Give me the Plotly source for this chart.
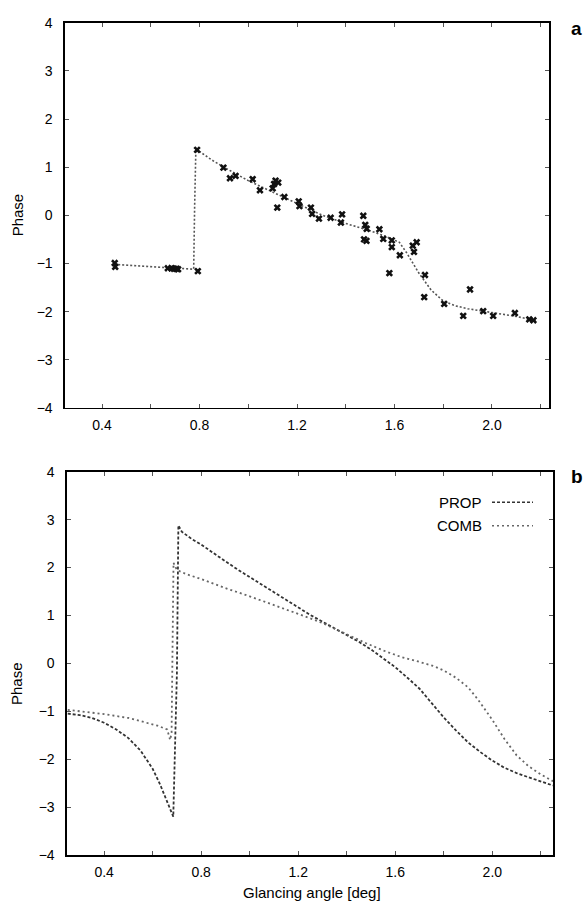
import plotly.graph_objects as go

# ---------------- Panel a: measured phase and fit ----------------
meas_x = [0.452, 0.454, 0.670, 0.685, 0.695, 0.705, 0.712, 0.793, 0.790,
          0.898, 0.925, 0.948, 1.018, 1.048, 1.100, 1.106, 1.123, 1.112, 1.119,
          1.148, 1.207, 1.210, 1.257, 1.262, 1.290, 1.338, 1.385, 1.380,
          1.472, 1.480, 1.486, 1.475, 1.485, 1.538, 1.554, 1.589, 1.589,
          1.579, 1.622, 1.675, 1.691, 1.680, 1.725, 1.722, 1.804, 1.882,
          1.910, 1.964, 2.005, 2.094, 2.153, 2.170]
meas_y = [-0.99, -1.07, -1.10, -1.10, -1.11, -1.11, -1.12, -1.16, 1.36,
          0.99, 0.77, 0.82, 0.75, 0.52, 0.56, 0.65, 0.68, 0.72, 0.16,
          0.38, 0.29, 0.19, 0.16, 0.03, -0.07, -0.05, 0.02, -0.15,
          -0.01, -0.20, -0.28, -0.50, -0.53, -0.29, -0.49, -0.52, -0.66,
          -1.20, -0.83, -0.63, -0.56, -0.76, -1.24, -1.70, -1.84, -2.09,
          -1.54, -1.99, -2.09, -2.03, -2.16, -2.18]

fit_x = [0.45, 0.55, 0.65, 0.72, 0.776, 0.780, 0.785, 0.85, 0.90, 1.00, 1.10,
         1.20, 1.30, 1.40, 1.50, 1.57, 1.60, 1.62, 1.65, 1.70, 1.75, 1.80,
         1.85, 1.90, 2.00, 2.10, 2.18]
fit_y = [-1.02, -1.05, -1.08, -1.10, -1.12, 0.20, 1.38, 1.15, 1.00, 0.72, 0.48,
         0.25, 0.01, -0.17, -0.32, -0.45, -0.52, -0.56, -0.78, -1.20, -1.55, -1.78,
         -1.88, -1.94, -2.02, -2.10, -2.19]

# ---------------- Panel b: model curves ----------------
prop_x = [0.25, 0.30, 0.35, 0.40, 0.45, 0.50, 0.55, 0.60, 0.63, 0.66, 0.685,
          0.700, 0.706, 0.72, 0.76, 0.80, 0.85, 0.90, 0.95, 1.00, 1.05, 1.10,
          1.15, 1.20, 1.25, 1.30, 1.35, 1.40, 1.45, 1.50, 1.55, 1.60, 1.65,
          1.70, 1.75, 1.80, 1.85, 1.90, 1.95, 2.00, 2.05, 2.10, 2.15, 2.20, 2.25]
prop_y = [-1.05, -1.08, -1.14, -1.24, -1.38, -1.56, -1.82, -2.20, -2.52, -2.88, -3.20,
          -0.20, 2.88, 2.75, 2.60, 2.48, 2.30, 2.13, 1.96, 1.80, 1.64, 1.48,
          1.32, 1.16, 1.01, 0.87, 0.73, 0.59, 0.45, 0.29, 0.11, -0.08, -0.30,
          -0.53, -0.83, -1.13, -1.40, -1.65, -1.85, -2.03, -2.18, -2.29, -2.38, -2.46, -2.55]

comb_x = [0.25, 0.30, 0.40, 0.50, 0.56, 0.62, 0.66, 0.672, 0.678, 0.682, 0.686,
          0.70, 0.74, 0.80, 0.90, 1.00, 1.10, 1.20, 1.25, 1.30, 1.35, 1.40,
          1.48, 1.55, 1.62, 1.70, 1.76, 1.80, 1.85, 1.90, 1.94, 2.00, 2.05,
          2.10, 2.15, 2.20, 2.25]
comb_y = [-0.97, -1.00, -1.06, -1.14, -1.22, -1.30, -1.38, -1.60, -1.45, 0.50, 2.10,
          1.95, 1.86, 1.76, 1.57, 1.40, 1.22, 1.03, 0.94, 0.84, 0.72, 0.61,
          0.42, 0.27, 0.14, 0.03, -0.06, -0.15, -0.30, -0.50, -0.75, -1.18, -1.58,
          -1.92, -2.15, -2.32, -2.46]

legend_names = ["PROP", "COMB"]
x_range_a = [0.248, 2.234]
x_range_b = [0.247, 2.250]
y_range = [-4, 4]

W, H = 586, 917
FONT = "Arial, Liberation Sans, Helvetica, sans-serif"

fig = go.Figure()

fig.add_trace(go.Scatter(x=fit_x, y=fit_y, mode="lines", xaxis="x", yaxis="y",
                         line=dict(color="#555555", width=1.6, dash="2px,2px"),
                         showlegend=False))
fig.add_trace(go.Scatter(x=meas_x, y=meas_y, mode="markers", xaxis="x", yaxis="y",
                         marker=dict(symbol="x", size=6.5, color="#111111",
                                     line=dict(width=0)),
                         showlegend=False))

fig.add_trace(go.Scatter(x=prop_x, y=prop_y, mode="lines", xaxis="x2", yaxis="y2",
                         name=legend_names[0],
                         line=dict(color="#333333", width=1.8, dash="3px,2px"),
                         showlegend=False))
fig.add_trace(go.Scatter(x=comb_x, y=comb_y, mode="lines", xaxis="x2", yaxis="y2",
                         name=legend_names[1],
                         line=dict(color="#666666", width=1.8, dash="2px,3px"),
                         showlegend=False))


def px2x(p):
    return p / W


def py2y(p):
    return 1 - p / H


axis_common = dict(showline=True, linecolor="black", linewidth=1.6, mirror="allticks",
                   ticks="inside", ticklen=4, tickwidth=1, tickcolor="#555555",
                   showgrid=False, zeroline=False,
                   tickfont=dict(family=FONT, size=14, color="black"))

xa = dict(axis_common, tick0=0.4, dtick=0.4, tickformat=".1f",
          minor=dict(dtick=0.2, tick0=0.4, ticks="inside", ticklen=4, tickcolor="#555555"),
          ticklabelstandoff=4)
ya = dict(axis_common, tick0=-4, dtick=1, range=y_range, ticklabelstandoff=8)

fig.update_layout(
    width=W, height=H,
    margin=dict(l=0, r=0, t=0, b=0),
    paper_bgcolor="white", plot_bgcolor="white",
    font=dict(family=FONT, size=14, color="black"),
    xaxis=dict(xa, domain=[px2x(65), px2x(549)], range=x_range_a, anchor="y"),
    yaxis=dict(ya, domain=[py2y(407), py2y(15)], anchor="x"),
    xaxis2=dict(xa, domain=[px2x(67), px2x(553)], range=x_range_b, anchor="y2"),
    yaxis2=dict(ya, domain=[py2y(862), py2y(472)], anchor="x2"),
)

annotations = [
    dict(text="Phase", x=px2x(17), y=py2y(211), textangle=-90,
         font=dict(size=15)),
    dict(text="Phase", x=px2x(17), y=py2y(688), textangle=-90,
         font=dict(size=15)),
    dict(text="Glancing angle [deg]", x=px2x(312), y=py2y(900),
         font=dict(size=15)),
    dict(text="<b>a</b>", x=px2x(584), y=py2y(8), xanchor="right", yanchor="top",
         font=dict(size=19)),
    dict(text="<b>b</b>", x=px2x(585), y=py2y(464), xanchor="right", yanchor="top",
         font=dict(size=19)),
    dict(text=legend_names[0], x=px2x(484), y=py2y(503), xanchor="right",
         font=dict(size=15)),
    dict(text=legend_names[1], x=px2x(484), y=py2y(527), xanchor="right",
         font=dict(size=15)),
]
for a in annotations:
    a.setdefault("xref", "paper")
    a.setdefault("yref", "paper")
    a.setdefault("showarrow", False)
    a.setdefault("xanchor", "center")
    a.setdefault("yanchor", "middle")
fig.update_layout(annotations=annotations)

fig.update_layout(shapes=[
    dict(type="line", xref="paper", yref="paper",
         x0=px2x(492), x1=px2x(533), y0=py2y(503), y1=py2y(503),
         line=dict(color="#333333", width=1.6, dash="3px,2px")),
    dict(type="line", xref="paper", yref="paper",
         x0=px2x(492), x1=px2x(533), y0=py2y(527), y1=py2y(527),
         line=dict(color="#666666", width=1.6, dash="2px,3px")),
])

page_fix = ("document.documentElement.style.margin='0';"
            "document.documentElement.style.padding='0';"
            "document.documentElement.style.overflow='hidden';"
            "document.body.style.margin='0';"
            "document.body.style.padding='0';"
            "document.body.style.overflow='hidden';")

fig.write_html("out.html", post_script=page_fix,
               config={"displayModeBar": False, "staticPlot": True})
